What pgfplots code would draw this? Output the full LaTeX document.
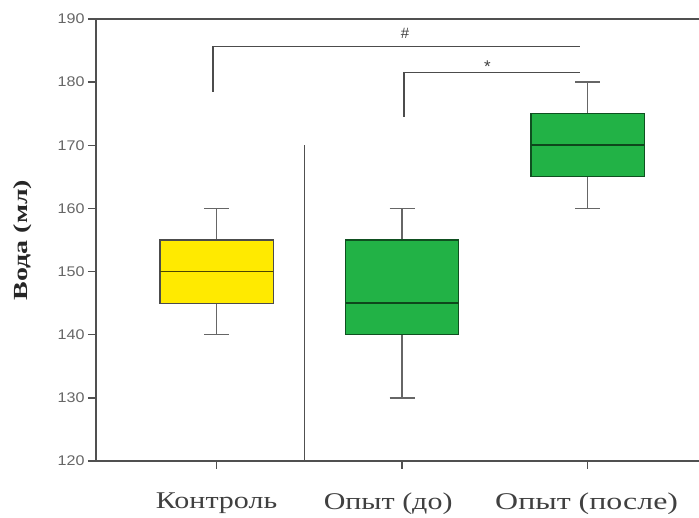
\documentclass[border=0pt]{standalone}
\usepackage{fontspec}
\setmainfont{Liberation Serif}
\newfontfamily\tickfont{Liberation Sans}
\usepackage{pgfplots}
\pgfplotsset{compat=1.18}
\definecolor{byellow}{RGB}{255,234,0}
\definecolor{bgreen}{RGB}{34,178,70}
\definecolor{axgray}{RGB}{80,80,80}
\begin{document}
\begin{tikzpicture}
\begin{axis}[
  scale only axis,
  width=603pt, height=442pt,
  xmin=-0.65, xmax=2.6,
  ymin=120, ymax=190,
  separate axis lines,
  axis x line=box,
  axis y line=left,
  axis line style={axgray, line width=1.3pt, -},
  xtick={0,1,2},
  xticklabels={\scalebox{1.25}[1]{Контроль}, \hspace*{-28pt}\scalebox{1.25}[1]{Опыт (до)}, \hspace*{-2pt}\scalebox{1.33}[1]{Опыт (после)}},
  x tick label style={font=\fontsize{24}{28}\selectfont, text=black!75, yshift=-20pt},
  ytick={120,130,...,190},
  yticklabel={\scalebox{1.15}[1]{\pgfmathprintnumber{\tick}}},
  y tick label style={font=\tickfont\fontsize{14}{16}\selectfont, text=black!60},
  /pgf/number format/assume math mode=true,
  tick align=outside,
  xtick pos=bottom,
  ytick pos=left,
  major tick length=8pt,
  tick style={axgray, line width=1.3pt},
  ylabel={\scalebox{1.4}[1]{\textbf{Вода (мл)}}},
  every axis y label/.style={at={(rel axis cs:0,0.5)}, rotate=90, anchor=center, yshift=73pt,
    font=\fontsize{20}{24}\selectfont, text=black!85},
  clip=false,
]
% whiskers (drawn first, boxes on top)
\addplot[black!60, line width=1.4pt, mark=none] coordinates {(0,140) (0,160)};
\addplot[black!60, line width=1.4pt, mark=none] coordinates {(-0.0675,140) (0.0675,140)};
\addplot[black!60, line width=1.4pt, mark=none] coordinates {(-0.0675,160) (0.0675,160)};
\addplot[black!60, line width=1.4pt, mark=none] coordinates {(1,130) (1,160)};
\addplot[black!60, line width=1.4pt, mark=none] coordinates {(0.9325,130) (1.0675,130)};
\addplot[black!60, line width=1.4pt, mark=none] coordinates {(0.9325,160) (1.0675,160)};
\addplot[black!60, line width=1.4pt, mark=none] coordinates {(2,160) (2,180)};
\addplot[black!60, line width=1.4pt, mark=none] coordinates {(1.9325,160) (2.0675,160)};
\addplot[black!60, line width=1.4pt, mark=none] coordinates {(1.9325,180) (2.0675,180)};
% boxes
\addplot[fill=byellow, draw=black!70, line width=1.2pt, mark=none] coordinates {(-0.305,145) (0.305,145) (0.305,155) (-0.305,155)} --cycle;
\addplot[black!70!byellow, line width=1.6pt, mark=none] coordinates {(-0.305,150) (0.305,150)};
\addplot[fill=bgreen, draw=black!55!bgreen, line width=1.2pt, mark=none] coordinates {(0.695,140) (1.305,140) (1.305,155) (0.695,155)} --cycle;
\addplot[black!60!bgreen, line width=1.6pt, mark=none] coordinates {(0.695,145) (1.305,145)};
\addplot[fill=bgreen, draw=black!55!bgreen, line width=1.2pt, mark=none] coordinates {(1.695,165) (2.305,165) (2.305,175) (1.695,175)} --cycle;
\addplot[black!60!bgreen, line width=1.6pt, mark=none] coordinates {(1.695,170) (2.305,170)};
% separator line
\addplot[axgray, line width=1.3pt, mark=none] coordinates {(0.475,120) (0.475,170)};
% significance brackets
\addplot[black!70, line width=1.3pt, mark=none] coordinates {(-0.02,178.5) (-0.02,185.6) (1.96,185.6)};
\addplot[black!70, line width=1.3pt, mark=none] coordinates {(1.01,174.5) (1.01,181.5) (1.96,181.5)};
\node[font=\tickfont\fontsize{15}{16}\selectfont, text=black!75] at (axis cs:1.015,187.8) {\#};
\node[font=\tickfont\fontsize{17}{17}\selectfont, text=black!75] at (axis cs:1.46,182.5) {*};
\coordinate (O) at (rel axis cs:0,0);
\end{axis}
\pgfresetboundingbox
\path ([shift={(-96pt,-57pt)}]O) rectangle ++(699pt,518pt);
\end{tikzpicture}
\end{document}
